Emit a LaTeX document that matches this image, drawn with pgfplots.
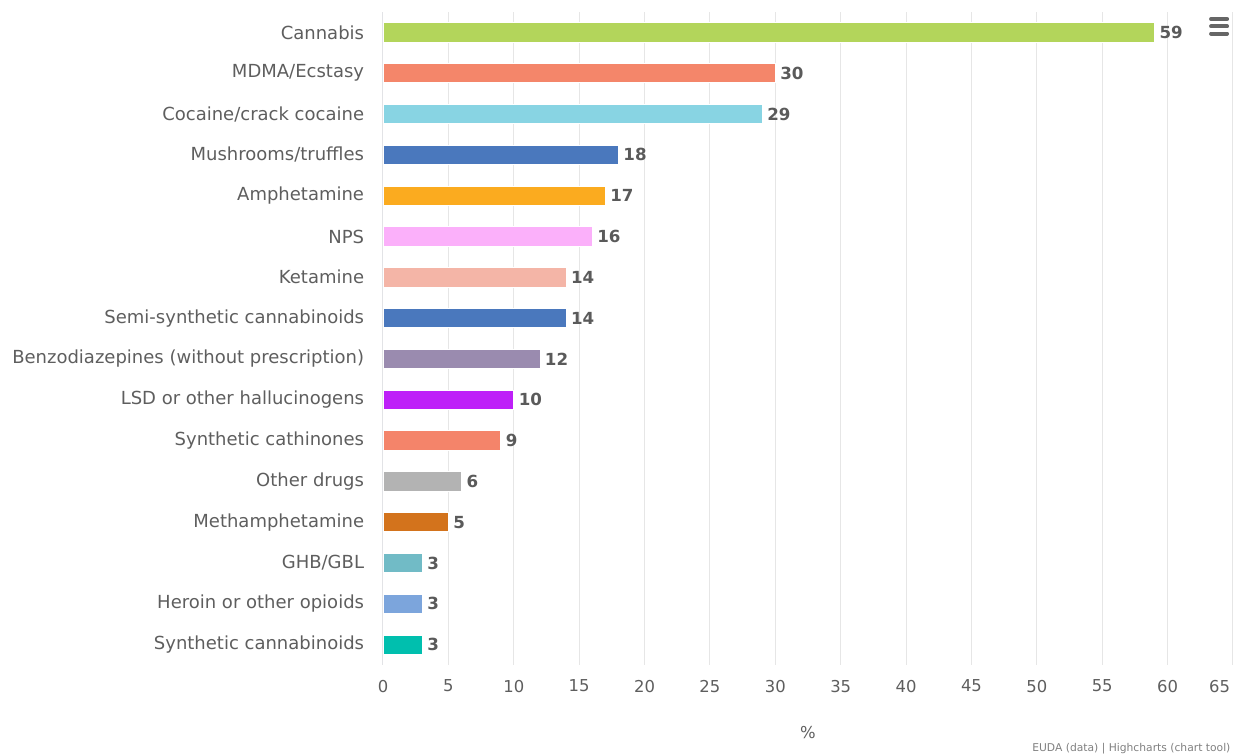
\documentclass[border=0pt]{standalone}
\usepackage{pgfplots}
\pgfplotsset{compat=1.18}
\usepackage{fontspec}
\setmainfont{DejaVu Sans}
\definecolor{c1}{HTML}{B3D55B}
\definecolor{c2}{HTML}{F4866A}
\definecolor{c3}{HTML}{88D4E3}
\definecolor{c4}{HTML}{4A78BD}
\definecolor{c5}{HTML}{FBAB1F}
\definecolor{c6}{HTML}{FBB0FA}
\definecolor{c7}{HTML}{F4B5A7}
\definecolor{c8}{HTML}{4A78BD}
\definecolor{c9}{HTML}{9A8BAF}
\definecolor{c10}{HTML}{BE20F8}
\definecolor{c11}{HTML}{F4846A}
\definecolor{c12}{HTML}{B3B3B3}
\definecolor{c13}{HTML}{D3731C}
\definecolor{c14}{HTML}{71BBC6}
\definecolor{c15}{HTML}{7CA5DC}
\definecolor{c16}{HTML}{00BFAE}
\definecolor{lbl}{HTML}{5E5E5E}
\definecolor{dlbl}{HTML}{5A5A5A}
\definecolor{gridc}{HTML}{E6E6E6}
\definecolor{axc}{HTML}{CCD6EB}
\definecolor{menuc}{HTML}{666666}
\begin{document}
\begin{tikzpicture}
\path[use as bounding box] (0,0) rectangle (924.75pt,566.25pt);
\begin{axis}[
  name=ax,
  at={(287.25pt,67.5pt)}, anchor=south west,
  scale only axis, width=637.5pt, height=489.75pt,
  xbar, bar width=14.5pt,
  every axis plot/.append style={bar shift=0pt, draw=white, line width=0.6pt},
  xmin=0, xmax=65, ymin=-0.5, ymax=15.5, y dir=reverse,
  xtick={0,5,...,65},
  xticklabels={0,5,10,15,20,25,30,35,40,45,50,55,60,{}},
  ytick={0,...,15},
  yticklabels={Cannabis,MDMA/Ecstasy,Cocaine/crack cocaine,Mushrooms/truffles,Amphetamine,NPS,Ketamine,Semi-synthetic cannabinoids,Benzodiazepines (without prescription),LSD or other hallucinogens,Synthetic cathinones,Other drugs,Methamphetamine,GHB/GBL,Heroin or other opioids,Synthetic cannabinoids},
  /pgf/number format/assume math mode=true,
  major tick length=0pt,
  xmajorgrids, major grid style={gridc, line width=0.75pt},
  axis line style={draw=none},
  yticklabel style={font=\fontsize{13.5pt}{15pt}\selectfont, color=lbl, anchor=east, inner sep=0pt, xshift=-14pt},
  xticklabel style={font=\fontsize{12.3pt}{14pt}\selectfont, color=lbl, anchor=north, inner sep=0pt, yshift=-11pt},
  xlabel={\%},
  xlabel style={at={(axis description cs:0.5,0)}, anchor=center, yshift=-51pt, font=\fontsize{12.3pt}{14pt}\selectfont, color=lbl},
  nodes near coords,
  nodes near coords style={font=\bfseries\fontsize{12.5pt}{14pt}\selectfont, color=dlbl, anchor=west, inner sep=0pt, xshift=3.5pt},
]
\addplot[fill=c1] coordinates {(59,0)};
\addplot[fill=c2] coordinates {(30,1)};
\addplot[fill=c3] coordinates {(29,2)};
\addplot[fill=c4] coordinates {(18,3)};
\addplot[fill=c5] coordinates {(17,4)};
\addplot[fill=c6] coordinates {(16,5)};
\addplot[fill=c7] coordinates {(14,6)};
\addplot[fill=c8] coordinates {(14,7)};
\addplot[fill=c9] coordinates {(12,8)};
\addplot[fill=c10] coordinates {(10,9)};
\addplot[fill=c11] coordinates {(9,10)};
\addplot[fill=c12] coordinates {(6,11)};
\addplot[fill=c13] coordinates {(5,12)};
\addplot[fill=c14] coordinates {(3,13)};
\addplot[fill=c15] coordinates {(3,14)};
\addplot[fill=c16] coordinates {(3,15)};
\draw[axc, line width=0.75pt] (rel axis cs:0,0) -- (rel axis cs:0,1);
\end{axis}
\node[anchor=north east, inner sep=0pt, yshift=-11pt, xshift=-2pt, font=\fontsize{12.3pt}{14pt}\selectfont, color=lbl] at (ax.south east) {65};
% export menu icon
\foreach \yy in {552,546.4,541.1} {
  \draw[menuc, line width=3pt, line cap=round] (908.3pt,\yy pt) -- (920.3pt,\yy pt);
}
% credits
\node[anchor=south east, inner sep=0pt, font=\fontsize{8.05pt}{10pt}\selectfont, color=gray] at (923pt,0.5pt) {EUDA (data) | Highcharts (chart tool)};
\end{tikzpicture}
\end{document}
